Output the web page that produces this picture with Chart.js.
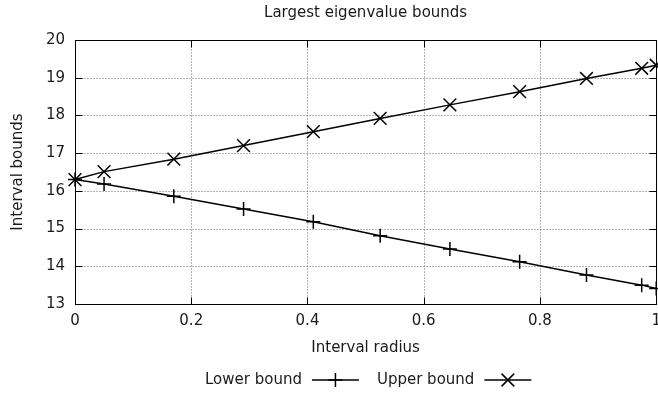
<!DOCTYPE html>
<html>
<head>
<meta charset="utf-8">
<script src="https://cdn.jsdelivr.net/npm/chart.js@4/dist/chart.umd.min.js"></script>
<style>
  html, body { margin: 0; padding: 0; background: #fff; overflow: hidden; }
</style>
</head>
<body>
<canvas id="myChart" width="669" height="393"></canvas>
<script>
// values
var radius = [0, 0.05, 0.17, 0.29, 0.41, 0.525, 0.645, 0.765, 0.88, 0.975, 1.0];
var lowerBound = [16.3, 16.18, 15.86, 15.52, 15.18, 14.81, 14.46, 14.12, 13.77, 13.5, 13.41];
var upperBound = [16.3, 16.51, 16.84, 17.2, 17.57, 17.92, 18.28, 18.63, 18.98, 19.25, 19.33];
var xTicks = [0, 0.2, 0.4, 0.6, 0.8, 1];
var yTicks = [13, 14, 15, 16, 17, 18, 19, 20];

var textColor = "#1a1a1a";
var fontName = "'DejaVu Sans', sans-serif";
var fontSize = 15;

function pts(ys) {
  return radius.map(function (x, i) { return { x: x, y: ys[i] }; });
}

// grid, frame and inward tick marks like gnuplot
var frame = {
  id: "frame",
  beforeDatasetsDraw: function (chart) {
    var ctx = chart.ctx, a = chart.chartArea;
    var xs = chart.scales.x, ys = chart.scales.y;
    var L = Math.round(a.left) + 0.5, R = Math.round(a.right) + 0.5;
    var T = Math.round(a.top) + 0.5, B = Math.round(a.bottom) + 0.5;
    ctx.save();
    ctx.lineWidth = 1;
    ctx.strokeStyle = "#6a6a6a";
    ctx.setLineDash([1, 2]);
    ctx.beginPath();
    xTicks.forEach(function (v) {
      if (v > 0 && v < 1) {
        var px = Math.round(xs.getPixelForValue(v)) + 0.5;
        ctx.moveTo(px, T); ctx.lineTo(px, B);
      }
    });
    yTicks.forEach(function (v) {
      if (v > 13 && v < 20) {
        var py = Math.round(ys.getPixelForValue(v)) + 0.5;
        ctx.moveTo(L, py); ctx.lineTo(R, py);
      }
    });
    ctx.stroke();
    ctx.setLineDash([]);
    ctx.strokeStyle = "#000";
    ctx.beginPath();
    var tl = 7;
    xTicks.forEach(function (v) {
      var px = Math.round(xs.getPixelForValue(v)) + 0.5;
      ctx.moveTo(px, B); ctx.lineTo(px, B - tl);
      ctx.moveTo(px, T); ctx.lineTo(px, T + tl);
    });
    yTicks.forEach(function (v) {
      var py = Math.round(ys.getPixelForValue(v)) + 0.5;
      ctx.moveTo(L, py); ctx.lineTo(L + tl, py);
      ctx.moveTo(R, py); ctx.lineTo(R - tl, py);
    });
    ctx.stroke();
    ctx.strokeRect(L, T, R - L, B - T);
    ctx.restore();
  },
  afterDraw: function (chart) {
    var ctx = chart.ctx, a = chart.chartArea;
    ctx.save();
    ctx.fillStyle = textColor;
    ctx.font = fontSize + "px " + fontName;
    ctx.textBaseline = "middle";
    ctx.textAlign = "center";
    ctx.fillText("Largest eigenvalue bounds", (a.left + a.right) / 2, 13);

    // legend: text then line sample with marker
    var x = 205, y = 380;
    chart.data.datasets.forEach(function (ds) {
      ctx.textAlign = "left";
      ctx.fillStyle = textColor;
      ctx.fillText(ds.label, x, y);
      x += ctx.measureText(ds.label).width + 10;
      ctx.strokeStyle = "#000";
      ctx.lineWidth = 1.5;
      ctx.beginPath();
      ctx.moveTo(x, y); ctx.lineTo(x + 47, y);
      ctx.stroke();
      Chart.helpers.drawPoint(ctx, {
        pointStyle: ds.pointStyle, rotation: 0,
        radius: ds.pointRadius, borderWidth: ds.pointBorderWidth
      }, x + 23.5, y);
      x += 47 + 18;
    });
    ctx.restore();
  }
};

var ctx = document.getElementById("myChart").getContext("2d");
var chart = new Chart(ctx, {
  type: "scatter",
  data: {
    datasets: [
      {
        label: "Lower bound",
        data: pts(lowerBound),
        showLine: true,
        borderColor: "#000",
        backgroundColor: "#000",
        borderWidth: 1.5,
        pointStyle: "cross",
        pointRadius: 7,
        pointHoverRadius: 7,
        pointBorderWidth: 1.5,
        clip: false
      },
      {
        label: "Upper bound",
        data: pts(upperBound),
        showLine: true,
        borderColor: "#000",
        backgroundColor: "#000",
        borderWidth: 1.5,
        pointStyle: "crossRot",
        pointRadius: 9,
        pointHoverRadius: 9,
        pointBorderWidth: 1.5,
        clip: false
      }
    ]
  },
  options: {
    responsive: false,
    animation: false,
    events: [],
    layout: { padding: { top: 40, right: 0, bottom: 30, left: 0 } },
    plugins: {
      legend: { display: false },
      tooltip: { enabled: false },
      title: { display: false }
    },
    scales: {
      x: {
        type: "linear",
        min: 0,
        max: 1,
        afterBuildTicks: function (s) { s.ticks = xTicks.map(function (v) { return { value: v }; }); },
        afterFit: function (s) { s.height = 59; },
        grid: { display: false, drawTicks: false },
        border: { display: false },
        ticks: {
          padding: 8,
          color: textColor,
          font: { family: fontName, size: fontSize },
          maxRotation: 0,
          callback: function (v) { return String(Math.round(v * 10) / 10); }
        },
        title: {
          display: true,
          text: "Interval radius",
          color: textColor,
          font: { family: fontName, size: fontSize },
          padding: { top: 0, bottom: 6 }
        }
      },
      y: {
        min: 13,
        max: 20,
        afterBuildTicks: function (s) { s.ticks = yTicks.map(function (v) { return { value: v }; }); },
        afterFit: function (s) { s.width = 75; },
        grid: { display: false, drawTicks: false },
        border: { display: false },
        ticks: {
          padding: 10,
          color: textColor,
          font: { family: fontName, size: fontSize }
        },
        title: {
          display: true,
          text: "Interval bounds",
          color: textColor,
          font: { family: fontName, size: fontSize },
          padding: { top: 9, bottom: 0 }
        }
      }
    }
  },
  plugins: [frame]
});
</script>
</body>
</html>
